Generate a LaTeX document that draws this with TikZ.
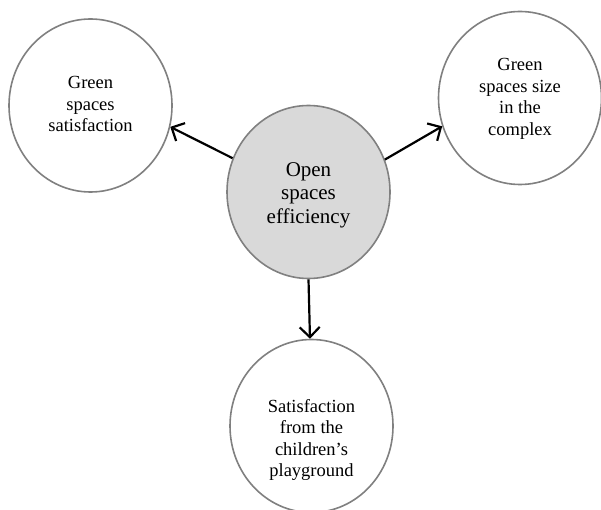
\documentclass[tikz,border=0pt]{standalone}
\usepackage{fontspec}
\setmainfont{Liberation Serif}
\usetikzlibrary{shapes.geometric,arrows.meta}
\begin{document}
\begin{tikzpicture}[x=1pt,y=-1pt,
  bubble/.style={ellipse, draw=black!50, line width=1.6pt, minimum width=163pt, minimum height=173pt, inner sep=0pt},
  txt/.style={align=center, inner sep=0pt, font=\fontsize{18.5}{21.5}\selectfont},
  bigtxt/.style={align=center, inner sep=0pt, font=\fontsize{21}{23.5}\selectfont},
  conn/.style={line width=2.2pt, -{Straight Barb[length=10pt,width=20pt,line width=2.2pt]}}]
\useasboundingbox[fill=white] (0,0) rectangle (601,510);
\begin{scope}
\clip (0,0) rectangle (601,510);
\node[bubble] (l) at (90.5,105.5) {};
\node[bubble] (r) at (520,98) {};
\node[bubble, fill=black!15] (c) at (308.5,192) {};
\node[bubble] (b) at (311.5,426) {};
\node[txt] (lt) at (90.5,104) {Green\\spaces\\satisfaction};
\node[txt] (rt) at (520,99) {Green\\spaces size\\in the\\complex};
\node[bigtxt] (ct) at (308.5,195) {Open\\spaces\\efficiency};
\node[txt] (bt) at (311.5,440) {Satisfaction\\from the\\children’s\\playground};
\draw[conn] (c.156) -- (l.345);
\draw[conn] (c.23) -- (r.200);
\draw[conn] (c.270) -- (b.91);
\end{scope}
\end{tikzpicture}
\end{document}
